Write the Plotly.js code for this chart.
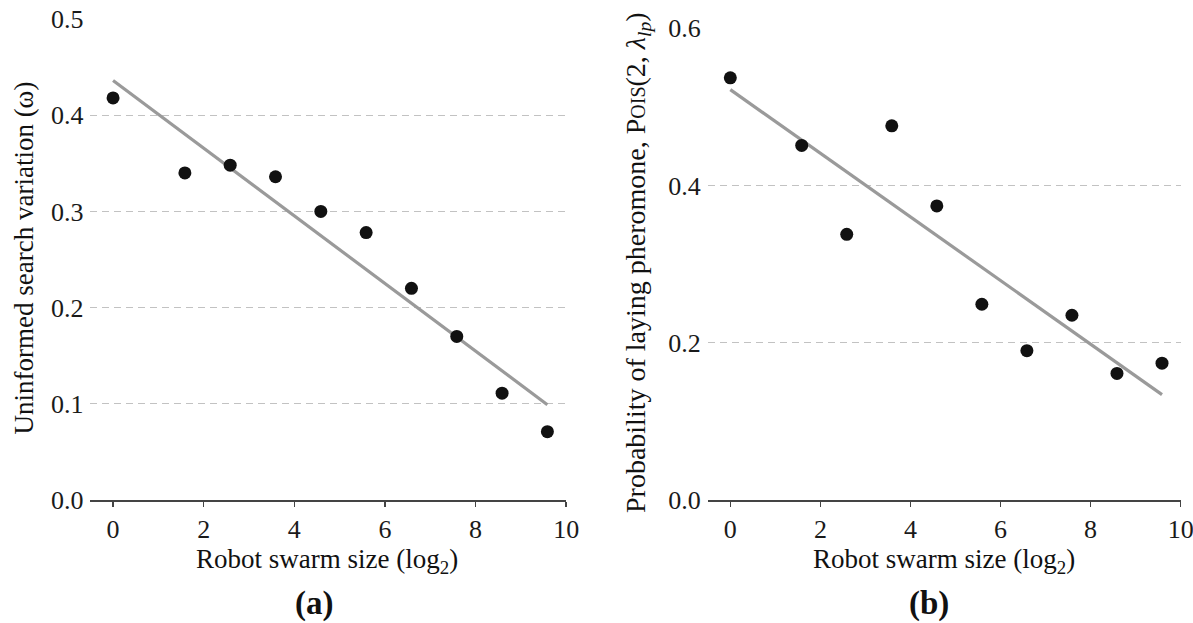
<!DOCTYPE html>
<html>
<head>
<meta charset="utf-8">
<script src="https://cdn.plot.ly/plotly-3.0.1.min.js"></script>
<style>html,body{margin:0;padding:0;background:#fff;}#chart{width:1193px;height:623px;}</style>
</head>
<body>
<div id="chart"></div>
<script>
// Swarm size in log2 (sizes 1,3,6,12,24,48,96,192,384,768)
const swarmLog2 = [0, 1.585, 2.585, 3.585, 4.585, 5.585, 6.585, 7.585, 8.585, 9.585];
// (a) uninformed search variation (omega)
const omegaValues = [0.418, 0.340, 0.348, 0.336, 0.300, 0.278, 0.220, 0.170, 0.111, 0.071];
// (b) probability of laying pheromone
const pheromoneValues = [0.537, 0.451, 0.338, 0.476, 0.374, 0.249, 0.190, 0.235, 0.161, 0.174];
// fitted trend lines (endpoints)
const trendX = [0, 9.585];
const omegaTrend = [0.436, 0.099];
const pheromoneTrend = [0.522, 0.134];
const xTicks = [0, 2, 4, 6, 8, 10];
const omegaTicks = [0.0, 0.1, 0.2, 0.3, 0.4, 0.5];
const pheromoneTicks = [0.0, 0.2, 0.4, 0.6];

const FONT = 'Liberation Serif, Times New Roman, serif';
const lineColor = '#9a9a9a';
const markerStyle = {color: '#111', size: 13};

const traces = [
  {x: trendX, y: omegaTrend, mode: 'lines', line: {color: lineColor, width: 3.2}, xaxis: 'x', yaxis: 'y', hoverinfo: 'skip'},
  {x: swarmLog2, y: omegaValues, mode: 'markers', marker: markerStyle, xaxis: 'x', yaxis: 'y'},
  {x: trendX, y: pheromoneTrend, mode: 'lines', line: {color: lineColor, width: 3.2}, xaxis: 'x2', yaxis: 'y2', hoverinfo: 'skip'},
  {x: swarmLog2, y: pheromoneValues, mode: 'markers', marker: markerStyle, xaxis: 'x2', yaxis: 'y2'}
];

const W = 1193, H = 623;
const tickFont = {family: FONT, size: 26, color: '#1a1a1a'};
const xAxisBase = {
  range: [-0.5, 10], tickvals: xTicks, ticktext: xTicks.map(String),
  showline: true, linecolor: '#444', linewidth: 2, ticks: 'outside', ticklen: 5, tickwidth: 1.5, tickcolor: '#444',
  showgrid: false, zeroline: false, tickfont: tickFont, ticklabeloverflow: 'allow', automargin: false, fixedrange: true
};
const yAxisBase = {
  showline: false, ticks: '', showgrid: true, gridcolor: '#c2c2c2', griddash: '7px,5px', gridwidth: 1,
  zeroline: false, tickfont: tickFont, ticklabelstandoff: 6, ticklabeloverflow: 'allow', automargin: false, fixedrange: true
};

const layout = {
  width: W, height: H,
  margin: {l: 0, r: 0, t: 0, b: 0},
  paper_bgcolor: '#fff', plot_bgcolor: '#fff',
  showlegend: false,
  font: {family: FONT, color: '#111'},
  xaxis: Object.assign({}, xAxisBase, {domain: [90.4 / W, 566.2 / W], anchor: 'y'}),
  yaxis: Object.assign({}, yAxisBase, {domain: [(H - 500) / H, (H - 19) / H], range: [0, 0.5],
    tickvals: omegaTicks, ticktext: omegaTicks.map(v => v.toFixed(1)), anchor: 'x'}),
  xaxis2: Object.assign({}, xAxisBase, {domain: [707.8 / W, 1180.7 / W], anchor: 'y2'}),
  yaxis2: Object.assign({}, yAxisBase, {domain: [(H - 500) / H, (H - 28.3) / H], range: [0, 0.6],
    tickvals: pheromoneTicks, ticktext: pheromoneTicks.map(v => v.toFixed(1)), anchor: 'x2'}),
  annotations: [
    {text: 'Robot swarm size (log<sub>2</sub>)', xref: 'paper', yref: 'paper', x: 327 / W, y: (H - 561) / H,
     xanchor: 'center', yanchor: 'middle', showarrow: false, font: {family: FONT, size: 27, color: '#111'}},
    {text: 'Robot swarm size (log<sub>2</sub>)', xref: 'paper', yref: 'paper', x: 944 / W, y: (H - 561) / H,
     xanchor: 'center', yanchor: 'middle', showarrow: false, font: {family: FONT, size: 27, color: '#111'}},
    {text: 'Uninformed search variation (ω)', xref: 'paper', yref: 'paper', x: 23 / W, y: (H - 258.5) / H,
     xanchor: 'center', yanchor: 'middle', textangle: -90, showarrow: false, font: {family: FONT, size: 27, color: '#111'}},
    {text: 'Probability of laying pheromone, P<span style="font-size:20px">OIS</span>(2, <i>λ</i><sub><i>lp</i></sub>)',
     xref: 'paper', yref: 'paper', x: 637 / W, y: (H - 263) / H,
     xanchor: 'center', yanchor: 'middle', textangle: -90, showarrow: false, font: {family: FONT, size: 28, color: '#111'}},
    {text: '<b>(a)</b>', xref: 'paper', yref: 'paper', x: 314 / W, y: 0, borderpad: 0,
     xanchor: 'center', yanchor: 'bottom', showarrow: false, font: {family: FONT, size: 33, color: '#111'}},
    {text: '<b>(b)</b>', xref: 'paper', yref: 'paper', x: 929 / W, y: 0, borderpad: 0,
     xanchor: 'center', yanchor: 'bottom', showarrow: false, font: {family: FONT, size: 33, color: '#111'}}
  ]
};

Plotly.newPlot('chart', traces, layout, {displayModeBar: false, staticPlot: true});
</script>
</body>
</html>
